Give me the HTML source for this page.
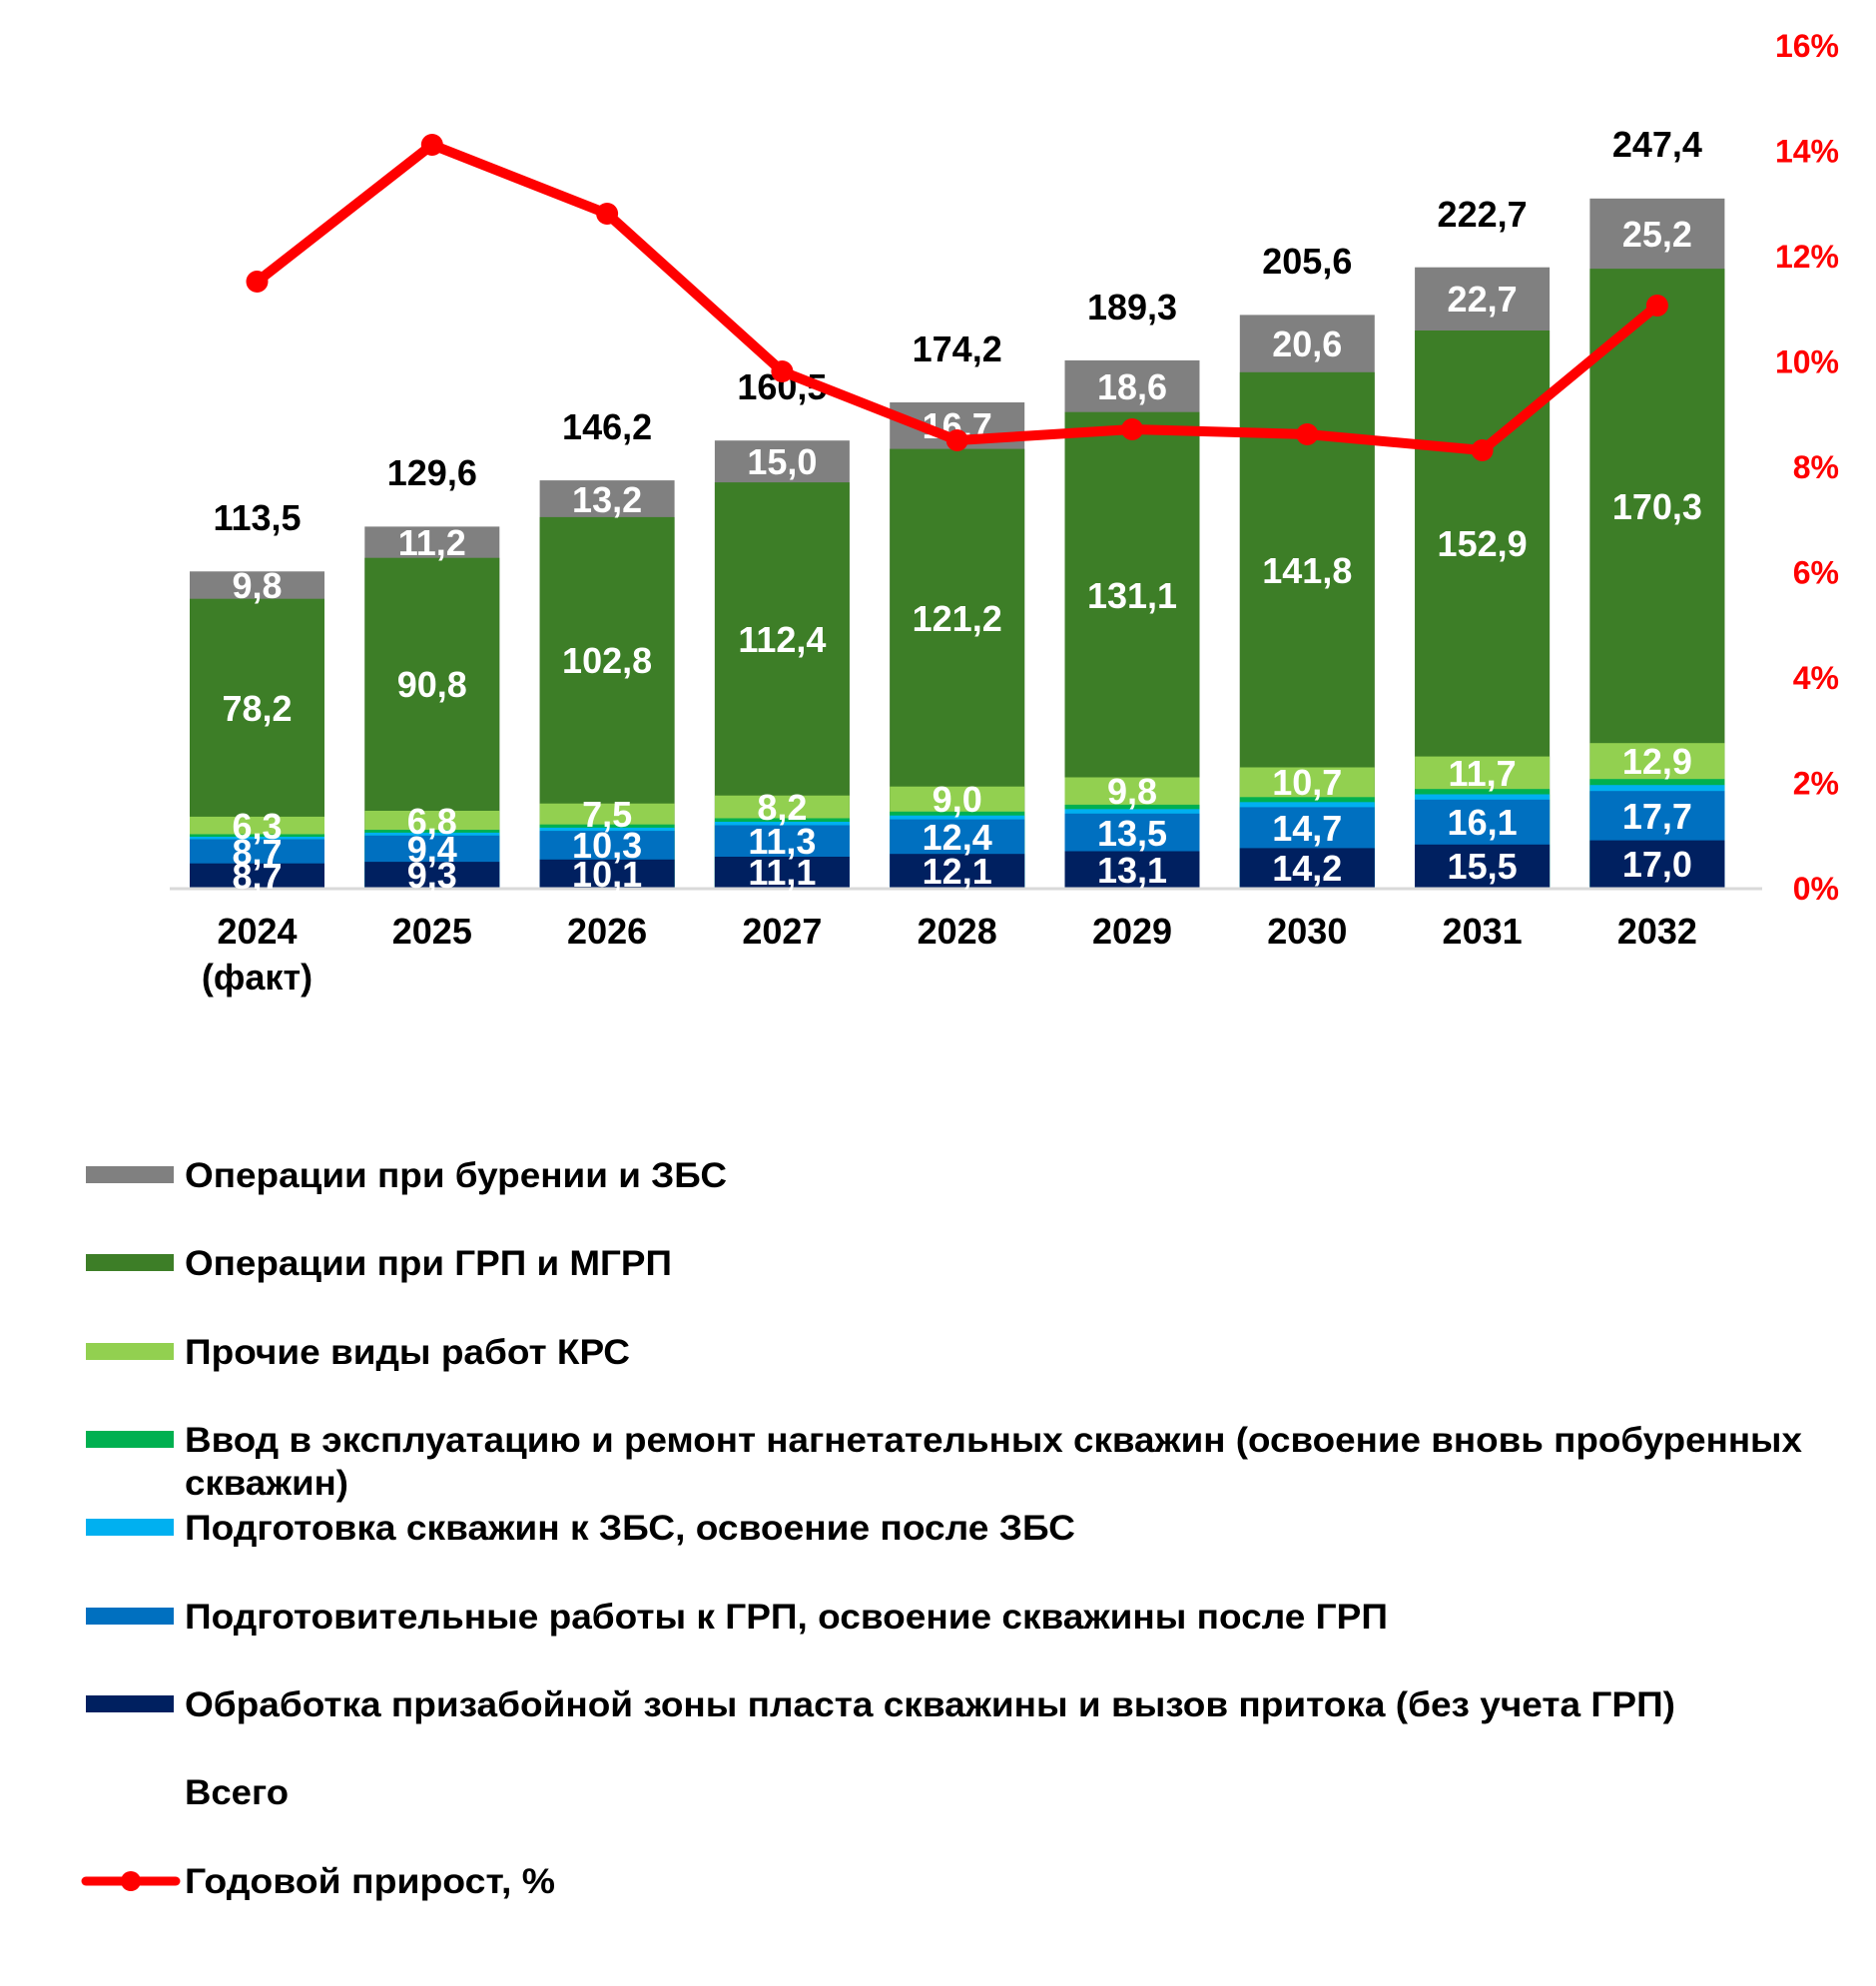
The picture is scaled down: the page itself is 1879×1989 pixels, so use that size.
<!DOCTYPE html>
<html><head><meta charset="utf-8"><style>
html,body{margin:0;padding:0;background:#fff;}
svg{display:block;font-family:"Liberation Sans",Arial,sans-serif;font-weight:bold;}
</style></head><body>
<svg width="1879" height="1989" viewBox="0 0 1879 1989" xmlns="http://www.w3.org/2000/svg">
<rect width="1879" height="1989" fill="#fff"/>
<g>
<rect x="190" y="572.3" width="135" height="316.7" fill="#808080"/>
<rect x="190" y="599.7" width="135" height="289.3" fill="#3D7E27"/>
<rect x="190" y="817.9" width="135" height="71.1" fill="#92D050"/>
<rect x="190" y="835.5" width="135" height="53.5" fill="#00B050"/>
<rect x="190" y="838" width="135" height="51" fill="#00B0F0"/>
<rect x="190" y="840.5" width="135" height="48.5" fill="#0070C0"/>
<rect x="190" y="864.7" width="135" height="24.3" fill="#002060"/>
<rect x="365.3" y="527.4" width="135" height="361.6" fill="#808080"/>
<rect x="365.3" y="558.7" width="135" height="330.3" fill="#3D7E27"/>
<rect x="365.3" y="812" width="135" height="77" fill="#92D050"/>
<rect x="365.3" y="831" width="135" height="58" fill="#00B050"/>
<rect x="365.3" y="833.9" width="135" height="55.1" fill="#00B0F0"/>
<rect x="365.3" y="836.8" width="135" height="52.2" fill="#0070C0"/>
<rect x="365.3" y="863.1" width="135" height="25.9" fill="#002060"/>
<rect x="540.6" y="481.1" width="135" height="407.9" fill="#808080"/>
<rect x="540.6" y="517.9" width="135" height="371.1" fill="#3D7E27"/>
<rect x="540.6" y="804.7" width="135" height="84.3" fill="#92D050"/>
<rect x="540.6" y="825.7" width="135" height="63.3" fill="#00B050"/>
<rect x="540.6" y="828.9" width="135" height="60.1" fill="#00B0F0"/>
<rect x="540.6" y="832.1" width="135" height="56.9" fill="#0070C0"/>
<rect x="540.6" y="860.8" width="135" height="28.2" fill="#002060"/>
<rect x="715.9" y="441.2" width="135" height="447.8" fill="#808080"/>
<rect x="715.9" y="483.1" width="135" height="405.9" fill="#3D7E27"/>
<rect x="715.9" y="796.7" width="135" height="92.3" fill="#92D050"/>
<rect x="715.9" y="819.5" width="135" height="69.5" fill="#00B050"/>
<rect x="715.9" y="823" width="135" height="66" fill="#00B0F0"/>
<rect x="715.9" y="826.5" width="135" height="62.5" fill="#0070C0"/>
<rect x="715.9" y="858" width="135" height="31" fill="#002060"/>
<rect x="891.2" y="403" width="135" height="486" fill="#808080"/>
<rect x="891.2" y="449.6" width="135" height="439.4" fill="#3D7E27"/>
<rect x="891.2" y="787.7" width="135" height="101.3" fill="#92D050"/>
<rect x="891.2" y="812.8" width="135" height="76.2" fill="#00B050"/>
<rect x="891.2" y="816.7" width="135" height="72.3" fill="#00B0F0"/>
<rect x="891.2" y="820.6" width="135" height="68.4" fill="#0070C0"/>
<rect x="891.2" y="855.2" width="135" height="33.8" fill="#002060"/>
<rect x="1066.5" y="360.9" width="135" height="528.1" fill="#808080"/>
<rect x="1066.5" y="412.7" width="135" height="476.3" fill="#3D7E27"/>
<rect x="1066.5" y="778.5" width="135" height="110.5" fill="#92D050"/>
<rect x="1066.5" y="805.9" width="135" height="83.1" fill="#00B050"/>
<rect x="1066.5" y="810.3" width="135" height="78.7" fill="#00B0F0"/>
<rect x="1066.5" y="814.8" width="135" height="74.2" fill="#0070C0"/>
<rect x="1066.5" y="852.5" width="135" height="36.5" fill="#002060"/>
<rect x="1241.8" y="315.4" width="135" height="573.6" fill="#808080"/>
<rect x="1241.8" y="372.8" width="135" height="516.2" fill="#3D7E27"/>
<rect x="1241.8" y="768.5" width="135" height="120.5" fill="#92D050"/>
<rect x="1241.8" y="798.3" width="135" height="90.7" fill="#00B050"/>
<rect x="1241.8" y="803.3" width="135" height="85.7" fill="#00B0F0"/>
<rect x="1241.8" y="808.4" width="135" height="80.6" fill="#0070C0"/>
<rect x="1241.8" y="849.4" width="135" height="39.6" fill="#002060"/>
<rect x="1417.1" y="267.7" width="135" height="621.3" fill="#808080"/>
<rect x="1417.1" y="331" width="135" height="558" fill="#3D7E27"/>
<rect x="1417.1" y="757.6" width="135" height="131.4" fill="#92D050"/>
<rect x="1417.1" y="790.2" width="135" height="98.8" fill="#00B050"/>
<rect x="1417.1" y="795.5" width="135" height="93.5" fill="#00B0F0"/>
<rect x="1417.1" y="800.8" width="135" height="88.2" fill="#0070C0"/>
<rect x="1417.1" y="845.8" width="135" height="43.2" fill="#002060"/>
<rect x="1592.4" y="198.8" width="135" height="690.2" fill="#808080"/>
<rect x="1592.4" y="269.1" width="135" height="619.9" fill="#3D7E27"/>
<rect x="1592.4" y="744.2" width="135" height="144.8" fill="#92D050"/>
<rect x="1592.4" y="780.2" width="135" height="108.8" fill="#00B050"/>
<rect x="1592.4" y="786.2" width="135" height="102.8" fill="#00B0F0"/>
<rect x="1592.4" y="792.2" width="135" height="96.8" fill="#0070C0"/>
<rect x="1592.4" y="841.6" width="135" height="47.4" fill="#002060"/>
</g>
<line x1="170" y1="890" x2="1765" y2="890" stroke="#D9D9D9" stroke-width="3"/>
<g fill="#fff" font-size="36" text-anchor="middle">
<text x="257.5" y="890">8,7</text><text x="257.5" y="866">8,7</text><text x="257.5" y="840">6,3</text><text x="257.5" y="722">78,2</text><text x="257.5" y="599">9,8</text>
<text x="432.8" y="889">9,3</text><text x="432.8" y="863">9,4</text><text x="432.8" y="835">6,8</text><text x="432.8" y="698">90,8</text><text x="432.8" y="556">11,2</text>
<text x="608.1" y="888">10,1</text><text x="608.1" y="859">10,3</text><text x="608.1" y="828">7,5</text><text x="608.1" y="674">102,8</text><text x="608.1" y="513">13,2</text>
<text x="783.4" y="886">11,1</text><text x="783.4" y="855">11,3</text><text x="783.4" y="821">8,2</text><text x="783.4" y="653">112,4</text><text x="783.4" y="475">15,0</text>
<text x="958.7" y="885">12,1</text><text x="958.7" y="851">12,4</text><text x="958.7" y="813">9,0</text><text x="958.7" y="632">121,2</text><text x="958.7" y="439">16,7</text>
<text x="1134" y="884">13,1</text><text x="1134" y="847">13,5</text><text x="1134" y="805">9,8</text><text x="1134" y="609">131,1</text><text x="1134" y="400">18,6</text>
<text x="1309.3" y="882">14,2</text><text x="1309.3" y="842">14,7</text><text x="1309.3" y="796">10,7</text><text x="1309.3" y="584">141,8</text><text x="1309.3" y="357">20,6</text>
<text x="1484.6" y="880">15,5</text><text x="1484.6" y="836">16,1</text><text x="1484.6" y="787">11,7</text><text x="1484.6" y="557">152,9</text><text x="1484.6" y="312">22,7</text>
<text x="1659.9" y="878">17,0</text><text x="1659.9" y="830">17,7</text><text x="1659.9" y="775">12,9</text><text x="1659.9" y="520">170,3</text><text x="1659.9" y="247">25,2</text>
</g>
<g fill="#000" font-size="36" text-anchor="middle">
<text x="257.5" y="531">113,5</text><text x="432.8" y="486">129,6</text><text x="608.1" y="440">146,2</text>
<text x="783.4" y="400">160,5</text><text x="958.7" y="362">174,2</text><text x="1134" y="320">189,3</text>
<text x="1309.3" y="274">205,6</text><text x="1484.6" y="227">222,7</text><text x="1659.9" y="157">247,4</text>
</g>
<g fill="#000" font-size="36" text-anchor="middle">
<text x="257.5" y="945">2024</text><text x="257.5" y="991">(факт)</text>
<text x="432.8" y="945">2025</text><text x="608.1" y="945">2026</text><text x="783.4" y="945">2027</text>
<text x="958.7" y="945">2028</text><text x="1134" y="945">2029</text><text x="1309.3" y="945">2030</text>
<text x="1484.6" y="945">2031</text><text x="1659.9" y="945">2032</text>
</g>
<g fill="#FF0000" font-size="32" text-anchor="end">
<text x="1842" y="901">0%</text><text x="1842" y="795.5">2%</text><text x="1842" y="690">4%</text>
<text x="1842" y="584.5">6%</text><text x="1842" y="479">8%</text><text x="1842" y="373.5">10%</text>
<text x="1842" y="268">12%</text><text x="1842" y="162.5">14%</text><text x="1842" y="57">16%</text>
</g>
<polyline fill="none" stroke="#FF0000" stroke-width="10" stroke-linejoin="round"
 points="257.5,282 432.8,145 608.1,214 783.4,372 958.7,441 1134,430 1309.3,435 1484.6,451 1659.9,306"/>
<g fill="#FF0000">
<circle cx="257.5" cy="282" r="11"/><circle cx="432.8" cy="145" r="11"/><circle cx="608.1" cy="214" r="11"/>
<circle cx="783.4" cy="372" r="11"/><circle cx="958.7" cy="441" r="11"/><circle cx="1134" cy="430" r="11"/>
<circle cx="1309.3" cy="435" r="11"/><circle cx="1484.6" cy="451" r="11"/><circle cx="1659.9" cy="306" r="11"/>
</g>
<g font-size="35" fill="#000">
<rect x="86" y="1168" width="88" height="17" fill="#808080"/>
<text x="185" y="1189" textLength="543" lengthAdjust="spacingAndGlyphs">Операции при бурении и ЗБС</text>
<rect x="86" y="1256" width="88" height="17" fill="#3D7E27"/>
<text x="185" y="1277" textLength="488" lengthAdjust="spacingAndGlyphs">Операции при ГРП и МГРП</text>
<rect x="86" y="1345" width="88" height="17" fill="#92D050"/>
<text x="185" y="1366" textLength="446" lengthAdjust="spacingAndGlyphs">Прочие виды работ КРС</text>
<rect x="86" y="1433" width="88" height="17" fill="#00B050"/>
<text x="185" y="1454" textLength="1620" lengthAdjust="spacingAndGlyphs">Ввод в эксплуатацию и ремонт нагнетательных скважин (освоение вновь пробуренных</text>
<text x="185" y="1497" textLength="164" lengthAdjust="spacingAndGlyphs">скважин)</text>
<rect x="86" y="1521" width="88" height="17" fill="#00B0F0"/>
<text x="185" y="1542" textLength="892" lengthAdjust="spacingAndGlyphs">Подготовка скважин к ЗБС, освоение после ЗБС</text>
<rect x="86" y="1610" width="88" height="17" fill="#0070C0"/>
<text x="185" y="1631" textLength="1205" lengthAdjust="spacingAndGlyphs">Подготовительные работы к ГРП, освоение скважины после ГРП</text>
<rect x="86" y="1698" width="88" height="17" fill="#002060"/>
<text x="185" y="1719" textLength="1493" lengthAdjust="spacingAndGlyphs">Обработка призабойной зоны пласта скважины и вызов притока (без учета ГРП)</text>
<text x="185" y="1807" textLength="104" lengthAdjust="spacingAndGlyphs">Всего</text>
<line x1="86" y1="1884" x2="176" y2="1884" stroke="#FF0000" stroke-width="9" stroke-linecap="round"/>
<circle cx="131" cy="1884" r="10" fill="#FF0000"/>
<text x="185" y="1896" textLength="371" lengthAdjust="spacingAndGlyphs">Годовой прирост, %</text>
</g>
</svg>
</body></html>
